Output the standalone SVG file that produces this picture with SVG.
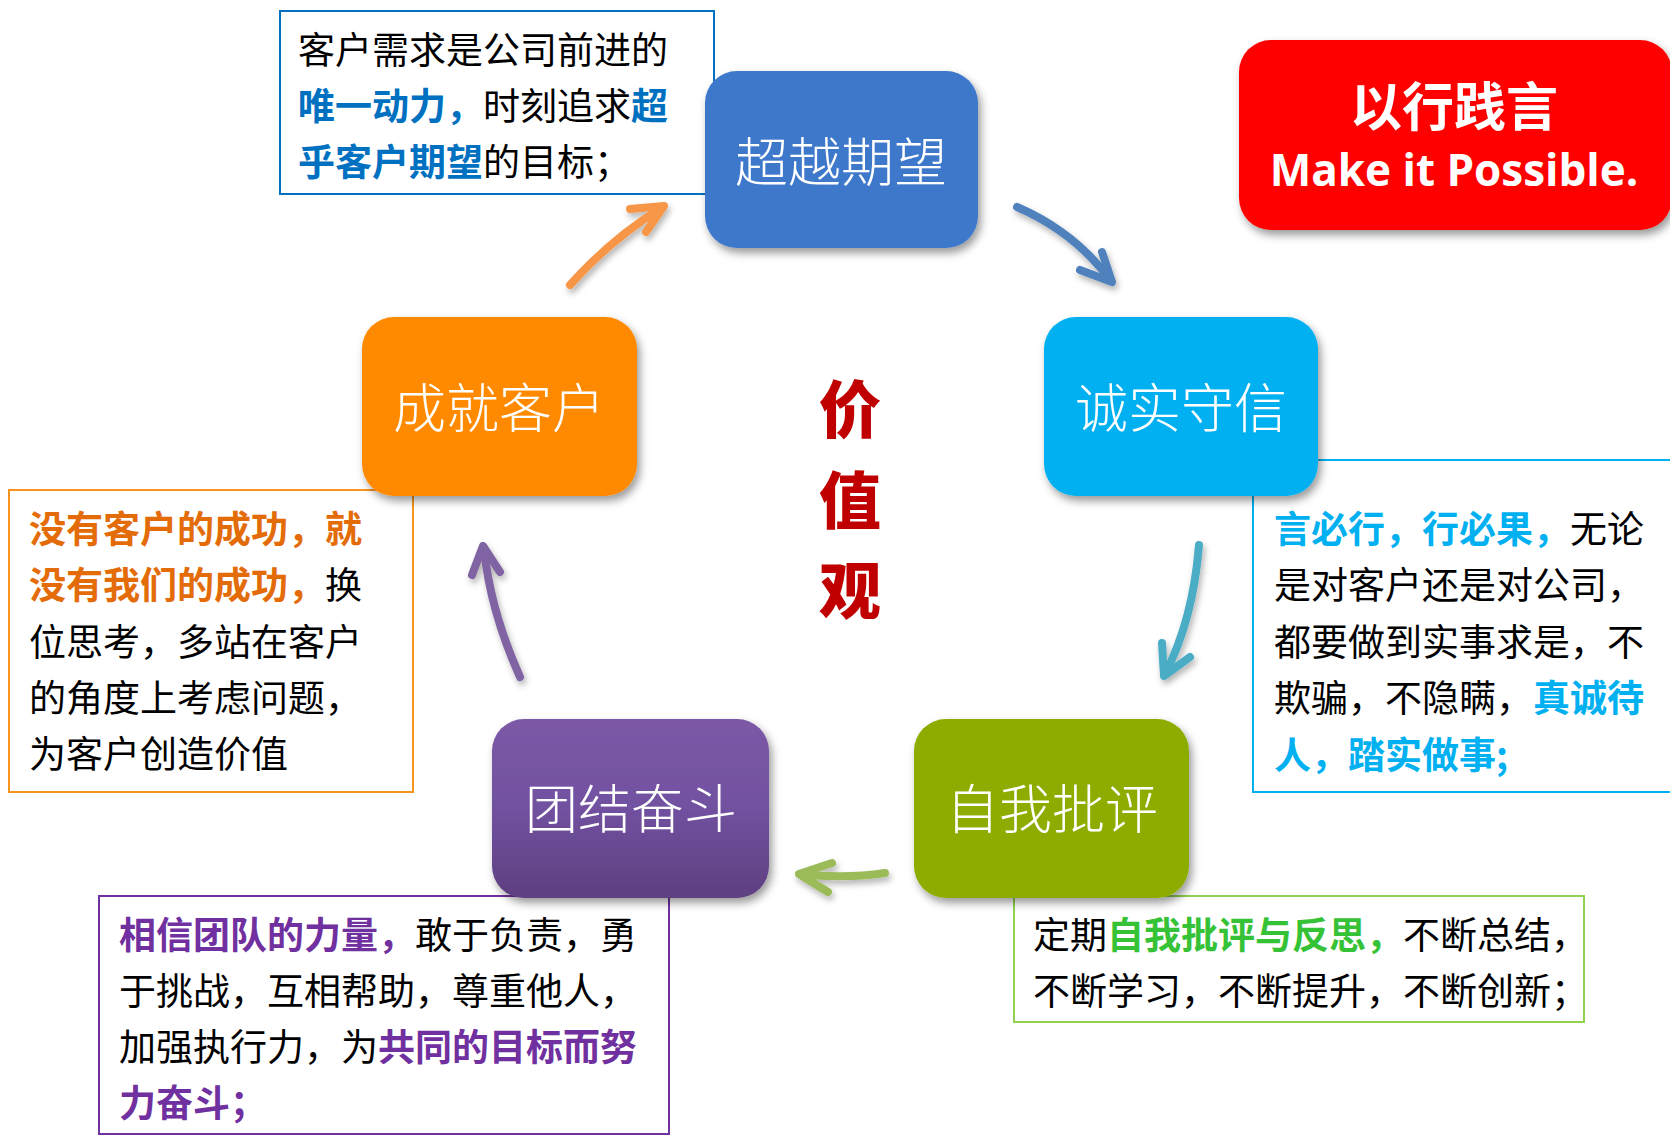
<svg xmlns="http://www.w3.org/2000/svg" width="1670" height="1136" viewBox="0 0 1670 1136">
<defs>
<style>
.t{font-family:"Noto Sans CJK SC","Noto Sans",sans-serif;font-size:37px;fill:#000;}
.b{font-weight:700;}
.node{font-family:"Noto Sans CJK SC",sans-serif;font-size:53px;font-weight:300;fill:#fff;text-anchor:middle;}
.box{fill:#fff;stroke-width:2;}
.arr{fill:none;stroke-width:8;stroke-linecap:round;stroke-linejoin:round;}
.title{font-family:"Noto Sans CJK SC",sans-serif;font-size:62px;font-weight:900;fill:#C00000;text-anchor:middle;}
</style>
<filter id="sh" x="-20%" y="-20%" width="140%" height="150%">
<feDropShadow dx="3" dy="5" stdDeviation="4" flood-color="#000" flood-opacity="0.4"/>
</filter>
<filter id="ash" x="-30%" y="-30%" width="160%" height="160%">
<feDropShadow dx="2" dy="4" stdDeviation="3" flood-color="#000" flood-opacity="0.3"/>
</filter>
<linearGradient id="pg" x1="0" y1="0" x2="0" y2="1">
<stop offset="0" stop-color="#7C59A7"/>
<stop offset="0.5" stop-color="#7151A0"/>
<stop offset="1" stop-color="#5E3F80"/>
</linearGradient>
</defs>

<g id="desc-top">
<rect class="box" x="280" y="11" width="434" height="183" stroke="#0070C0"/>
<text class="t" x="298" y="64">客户需求是公司前进的</text>
<text class="t" x="298" y="120"><tspan class="b" fill="#0070C0">唯一动力，</tspan>时刻追求<tspan class="b" fill="#0070C0">超</tspan></text>
<text class="t" x="298" y="176"><tspan class="b" fill="#0070C0">乎客户期望</tspan>的目标；</text>
</g>

<g id="desc-left">
<rect class="box" x="9" y="490" width="404" height="302" stroke="#F7941D"/>
<text class="t" x="29" y="543"><tspan class="b" fill="#E36C09">没有客户的成功，就</tspan></text>
<text class="t" x="29" y="599"><tspan class="b" fill="#E36C09">没有我们的成功，</tspan>换</text>
<text class="t" x="29" y="656">位思考，多站在客户</text>
<text class="t" x="29" y="712">的角度上考虑问题，</text>
<text class="t" x="29" y="768">为客户创造价值</text>
</g>

<g id="desc-right">
<rect class="box" x="1253" y="460" width="420" height="332" stroke="#00B0F0"/>
<text class="t" x="1274" y="543"><tspan class="b" fill="#00B0F0">言必行，行必果，</tspan>无论</text>
<text class="t" x="1274" y="599">是对客户还是对公司，</text>
<text class="t" x="1274" y="656">都要做到实事求是，不</text>
<text class="t" x="1274" y="712">欺骗，不隐瞒，<tspan class="b" fill="#00B0F0">真诚待</tspan></text>
<text class="t" x="1274" y="769"><tspan class="b" fill="#00B0F0">人，踏实做事;</tspan></text>
</g>

<g id="desc-purple">
<rect class="box" x="99" y="896" width="570" height="238" stroke="#7030A0"/>
<text class="t" x="119" y="949"><tspan class="b" fill="#7030A0">相信团队的力量，</tspan>敢于负责，勇</text>
<text class="t" x="119" y="1005">于挑战，互相帮助，尊重他人，</text>
<text class="t" x="119" y="1061">加强执行力，为<tspan class="b" fill="#7030A0">共同的目标而努</tspan></text>
<text class="t" x="119" y="1117"><tspan class="b" fill="#7030A0">力奋斗；</tspan></text>
</g>

<g id="desc-green">
<rect class="box" x="1014" y="896" width="570" height="126" stroke="#92D050"/>
<text class="t" x="1033" y="949">定期<tspan class="b" fill="#36C236">自我批评与反思，</tspan>不断总结，</text>
<text class="t" x="1033" y="1005">不断学习，不断提升，不断创新；</text>
</g>

<g id="connectors" filter="url(#ash)">
<g stroke="#F79646">
<path class="arr" d="M570,285 Q612,238 663,207"/>
<path class="arr" d="M630,209 L664,206 L646,232"/>
</g>
<g stroke="#4F81BD">
<path class="arr" d="M1017,207 Q1075,232 1111,281"/>
<path class="arr" d="M1080,270 L1112,282 L1102,252"/>
</g>
<g stroke="#4BACC6">
<path class="arr" d="M1199,545 Q1193,620 1165,674"/>
<path class="arr" d="M1162,643 L1164,676 L1190,657"/>
</g>
<g stroke="#9BBB59">
<path class="arr" d="M885,873 Q845,879 800,874"/>
<path class="arr" d="M832,863 L799,874 L828,892"/>
</g>
<g stroke="#8064A2">
<path class="arr" d="M520,677 Q490,610 484,548"/>
<path class="arr" d="M472,575 L483,546 L500,572"/>
</g>
</g>

<g id="node-chaoyue">
<rect x="705" y="71" width="273" height="177" rx="32" fill="#3C78CB" filter="url(#sh)"/>
<text class="node" x="841" y="182">超越期望</text>
</g>

<g id="node-chengshi">
<rect x="1044" y="317" width="274" height="179" rx="32" fill="#00B0F0" filter="url(#sh)"/>
<text class="node" x="1181" y="428">诚实守信</text>
</g>

<g id="node-chengjiu">
<rect x="362" y="317" width="275" height="179" rx="32" fill="#FF8A00" filter="url(#sh)"/>
<text class="node" x="499" y="428">成就客户</text>
</g>

<g id="node-tuanjie">
<rect x="492" y="719" width="277" height="179" rx="32" fill="url(#pg)" filter="url(#sh)"/>
<text class="node" x="631" y="829">团结奋斗</text>
</g>

<g id="node-ziwo">
<rect x="914" y="719" width="275" height="179" rx="32" fill="#8CAD00" filter="url(#sh)"/>
<text class="node" x="1052" y="829">自我批评</text>
</g>

<g id="center-title">
<text class="title" x="850" y="433">价</text>
<text class="title" x="850" y="524">值</text>
<text class="title" x="850" y="614">观</text>
</g>

<g id="slogan">
<rect x="1239" y="40" width="433" height="190" rx="32" fill="#FF0000" filter="url(#sh)"/>
<text x="1454" y="126" font-family="Noto Sans CJK SC,sans-serif" font-size="52" font-weight="700" fill="#fff" text-anchor="middle">以行践言</text>
<text x="1454" y="186" font-family="Open Sans,Noto Sans,sans-serif" font-size="44" font-weight="700" fill="#fff" text-anchor="middle">Make it Possible.</text>
</g>
</svg>
